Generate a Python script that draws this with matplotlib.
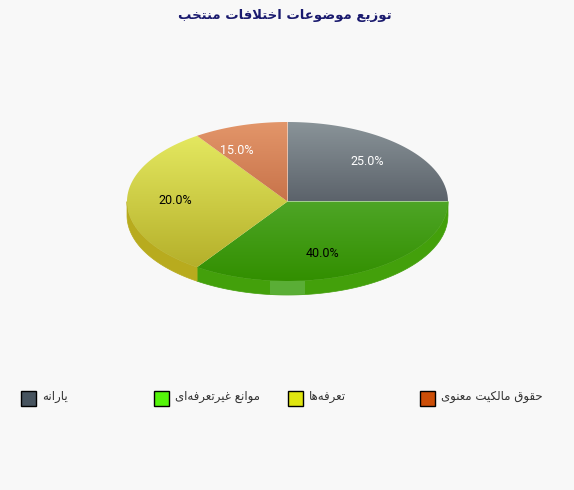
import numpy as np
import matplotlib
matplotlib.use('Agg')
import matplotlib.pyplot as plt
from matplotlib.path import Path
from matplotlib.patches import PathPatch, Rectangle
from matplotlib.colors import to_rgb

# slices, clockwise from 12 o'clock
values = [25.0, 40.0, 20.0, 15.0]
legend_labels = ['\u06cc\u0627\u0631\u0627\u0646\u0647',
                 '\u0645\u0648\u0627\u0646\u0639 \u063a\u06cc\u0631\u062a\u0639\u0631\u0641\u0647\u200c\u0627\u06cc',
                 '\u062a\u0639\u0631\u0641\u0647\u200c\u0647\u0627',
                 '\u062d\u0642\u0648\u0642 \u0645\u0627\u0644\u06a9\u06cc\u062a \u0645\u0639\u0646\u0648\u06cc']
title = '\u062a\u0648\u0632\u06cc\u0639 \u0645\u0648\u0636\u0648\u0639\u0627\u062a \u0627\u062e\u062a\u0644\u0627\u0641\u0627\u062a \u0645\u0646\u062a\u062e\u0628'

legend_colors = ['#47545f', '#55f50a', '#e0e610', '#cc4e08']
top_colors = ['#8a9499', '#4ea526', '#e4e860', '#e3966a']
bottom_colors = ['#5c636b', '#328f00', '#b5b02a', '#c8734a']
side_colors = ['#5c636b', '#43a00b', '#b8ab1e', '#c8734a']
label_colors = ['white', 'black', 'black', 'white']
legend_x = [20, 153, 287, 419]

# matplotlib does no arabic shaping, so map to presentation forms by hand
# letter: isolated, final, initial, medial
forms = {
    '\u0627': (0xFE8D, 0xFE8E), '\u0628': (0xFE8F, 0xFE90, 0xFE91, 0xFE92),
    '\u062a': (0xFE95, 0xFE96, 0xFE97, 0xFE98), '\u062d': (0xFEA1, 0xFEA2, 0xFEA3, 0xFEA4),
    '\u062e': (0xFEA5, 0xFEA6, 0xFEA7, 0xFEA8), '\u0631': (0xFEAD, 0xFEAE),
    '\u0632': (0xFEAF, 0xFEB0), '\u0636': (0xFEBD, 0xFEBE, 0xFEBF, 0xFEC0),
    '\u0639': (0xFEC9, 0xFECA, 0xFECB, 0xFECC), '\u063a': (0xFECD, 0xFECE, 0xFECF, 0xFED0),
    '\u0641': (0xFED1, 0xFED2, 0xFED3, 0xFED4), '\u0642': (0xFED5, 0xFED6, 0xFED7, 0xFED8),
    '\u06a9': (0xFB8E, 0xFB8F, 0xFB90, 0xFB91), '\u0644': (0xFEDD, 0xFEDE, 0xFEDF, 0xFEE0),
    '\u0645': (0xFEE1, 0xFEE2, 0xFEE3, 0xFEE4), '\u0646': (0xFEE5, 0xFEE6, 0xFEE7, 0xFEE8),
    '\u0647': (0xFEE9, 0xFEEA, 0xFEEB, 0xFEEC), '\u0648': (0xFEED, 0xFEEE),
    '\u06cc': (0xFBFC, 0xFBFD, 0xFBFE, 0xFBFF),
}


def shape(s):
    out = []
    i = 0
    while i < len(s):
        c = s[i]
        if c not in forms:
            if c != '\u200c':
                out.append(c)
            i += 1
            continue
        prev = s[i-1] if i > 0 else ' '
        joined = prev in forms and len(forms[prev]) == 4
        nxt = s[i+1] if i+1 < len(s) else ' '
        if c == '\u0644' and nxt == '\u0627':
            out.append(chr(0xFEFC if joined else 0xFEFB))
            i += 2
            continue
        f = forms[c]
        if len(f) == 4 and nxt in forms:
            out.append(chr(f[3] if joined else f[2]))
        else:
            out.append(chr(f[1] if joined else f[0]))
        i += 1
    return ''.join(out[::-1])


cx, cy, rx, ry = 287.5, 201.5, 160.5, 79.5
depth = 14


def rim(a1, a2, n=80):
    # points of the ellipse along screen angles (degrees)
    t = np.radians(np.linspace(a1, a2, n))
    r = 1/np.sqrt((np.cos(t)/rx)**2 + (np.sin(t)/ry)**2)
    return cx + r*np.cos(t), cy - r*np.sin(t)


def gradient(ax, path, c1, c2):
    v = path.vertices
    g = np.linspace(0, 1, 128)[:, None, None]
    img = (1-g)*np.array(to_rgb(c1))[None, None, :] + g*np.array(to_rgb(c2))[None, None, :]
    im = ax.imshow(img, extent=(v[:, 0].min(), v[:, 0].max(), v[:, 1].max(), v[:, 1].min()),
                   aspect='auto', zorder=3, interpolation='bilinear')
    im.set_clip_path(PathPatch(path, transform=ax.transData))


fig = plt.figure(figsize=(5.74, 4.9), dpi=100, facecolor='#f8f8f8')
ax = fig.add_axes([0, 0, 1, 1])
ax.axis('off')

edges = 90 - np.cumsum([0] + values)*3.6

# side of the disc, only the lower half shows
for i in range(len(values)):
    a1 = min(edges[i], 0)
    a2 = max(edges[i+1], -180)
    if a1 <= a2:
        continue
    x, y = rim(a1, a2)
    ax.fill(np.r_[x, x[::-1]], np.r_[y, y[::-1]+depth], color=side_colors[i], lw=0.5, zorder=2)

# lighter band on the front of the side
x, y = rim(-180, 0, 200)
band = Path(np.c_[np.r_[x, x[::-1]], np.r_[y, y[::-1]+depth]])
r = Rectangle((270, 270), 35, 30, color='#5aae36', lw=0, zorder=2.5)
ax.add_patch(r)
r.set_clip_path(PathPatch(band, transform=ax.transData))

# top of the disc
for i in range(len(values)):
    x, y = rim(edges[i], edges[i+1])
    path = Path(np.c_[np.r_[cx, x, cx], np.r_[cy, y, cy]])
    gradient(ax, path, top_colors[i], bottom_colors[i])

# labels sit at 0.7 of the rim, on the angle of the ellipse
mids = np.radians((edges[:-1] + edges[1:])/2)
for i, m in enumerate(mids):
    ax.text(cx + 0.7*rx*np.cos(m), cy - 0.7*ry*np.sin(m) - 1, '%.1f%%' % values[i],
            color=label_colors[i], family='Roboto', fontsize=9, ha='center', va='center', zorder=4)

ax.text(285, 15, shape(title), color='#1a1a6e', fontsize=9.5, fontweight='bold',
        family='DejaVu Sans', ha='center', va='center')

for i in range(len(values)):
    ax.add_patch(Rectangle((legend_x[i]+0.5, 390.5), 15, 15, facecolor=legend_colors[i],
                           edgecolor='black', lw=1))
    ax.text(legend_x[i]+22, 396, shape(legend_labels[i]), color='#333333', fontsize=8.5,
            family='DejaVu Sans', ha='left', va='center')

ax.set_xlim(0, 574)
ax.set_ylim(490, 0)
fig.savefig('out.png', dpi=100, facecolor=fig.get_facecolor())
